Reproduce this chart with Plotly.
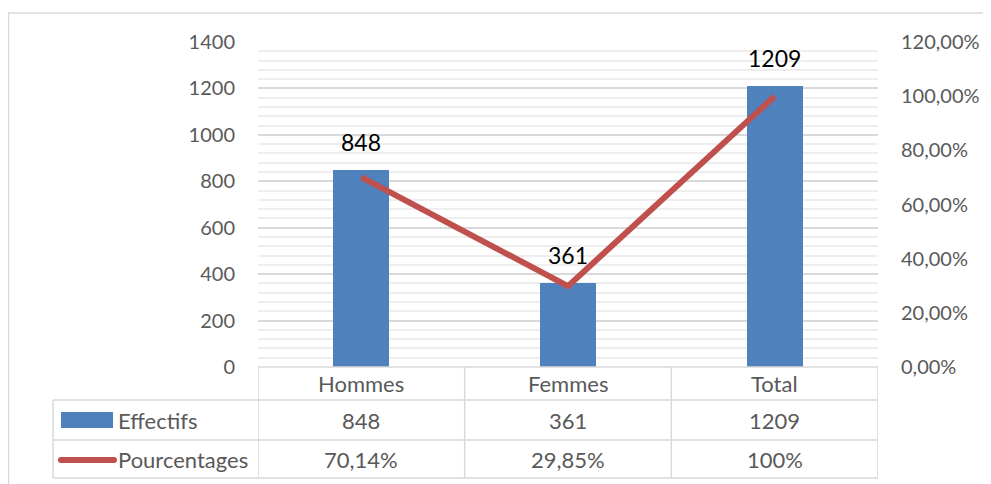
import plotly.graph_objects as go

# données du graphique
categories = ["Hommes", "Femmes", "Total"]
effectifs = [848, 361, 1209]
pourcentages = [70.14, 29.85, 100.0]
pourcentages_txt = ["70,14%", "29,85%", "100%"]
left_ticks = [0, 200, 400, 600, 800, 1000, 1200, 1400]
right_ticks = [0, 20, 40, 60, 80, 100, 120]
right_tick_txt = ["0,00%", "20,00%", "40,00%", "60,00%", "80,00%", "100,00%", "120,00%"]

# la page décale la figure de 8 px (marge du body)
OFF = 8
W, H = 991 - OFF, 484 - OFF
PL, PR, PT, PB = 258, 878, 42, 367  # zone de tracé en pixels (écran)
FONT = "Lato, Carlito, Calibri, sans-serif"
GREY_TXT = "#595959"
GRID = "#D9D9D9"
BLUE = "#4F81BD"
RED = "#C0504D"


def px(x):
    return (x - PL) / (PR - PL)


def py(y):
    return (PB - y) / (PB - PT)


fig = go.Figure()

fig.add_trace(go.Bar(
    x=categories, y=effectifs, name="Effectifs",
    marker=dict(color=BLUE, line=dict(width=0)),
    width=0.27, yaxis="y", hoverinfo="skip",
))
fig.add_trace(go.Scatter(
    x=categories, y=pourcentages, name="Pourcentages",
    mode="lines", line=dict(color=RED, width=6),
    yaxis="y2", hoverinfo="skip",
))

# étiquettes au-dessus des barres
for c, v in zip(categories, effectifs):
    fig.add_annotation(x=c, y=v, xref="x", yref="y", text=str(v),
                       showarrow=False, yanchor="bottom", yshift=12,
                       font=dict(family=FONT, size=23, color="black"))

shapes = []
# cadre extérieur
shapes.append(dict(type="rect", xref="paper", yref="paper",
                   x0=px(OFF + 0.5), x1=px(1000), y0=py(13), y1=py(500),
                   line=dict(color=GRID, width=1.5), layer="below"))


# tableau de données
def hline(x0, x1, y, xref="paper"):
    return dict(type="line", xref=xref, yref="paper", x0=x0, x1=x1,
                y0=py(y), y1=py(y), line=dict(color=GRID, width=1.5))


def vline(x, y0, y1, xref="paper"):
    return dict(type="line", xref=xref, yref="paper", x0=x, x1=x,
                y0=py(y0), y1=py(y1), line=dict(color=GRID, width=1.5))


shapes.append(hline(px(53), 1, 400))
shapes.append(hline(px(53), 1, 440))
shapes.append(hline(px(53), 1, 478))
shapes.append(hline(0, 1, PB))
shapes.append(vline(px(53), 400, 478))
for xb in [-0.5, 0.5, 1.5, 2.5]:
    shapes.append(vline(xb, PB, 478, xref="x"))

# légende dans le tableau
shapes.append(dict(type="rect", xref="paper", yref="paper",
                   x0=px(61), x1=px(113), y0=py(428), y1=py(412),
                   fillcolor=BLUE, line=dict(width=0)))
shapes.append(dict(type="line", xref="paper", yref="paper",
                   x0=px(61), x1=px(114), y0=py(460), y1=py(460),
                   line=dict(color=RED, width=6)))
for xc in [61, 114]:
    shapes.append(dict(type="circle", xref="paper", yref="paper",
                       x0=px(xc - 3), x1=px(xc + 3), y0=py(463), y1=py(457),
                       fillcolor=RED, line=dict(width=0)))

cell_font = dict(family=FONT, size=22, color=GREY_TXT)
for i, c in enumerate(categories):
    for txt, yc in [(c, 383), (str(effectifs[i]), 420), (pourcentages_txt[i], 459)]:
        fig.add_annotation(x=c, xref="x", y=py(yc), yref="paper", text=txt,
                           showarrow=False, xanchor="center", yanchor="middle",
                           font=cell_font)

for txt, yc in [("Effectifs", 420), ("Pourcentages", 459)]:
    fig.add_annotation(x=px(116), xref="paper", y=py(yc), yref="paper",
                       text=txt, showarrow=False, xanchor="left",
                       yanchor="middle", font=cell_font)

fig.update_layout(
    width=W, height=H,
    margin=dict(l=PL - OFF, r=991 - PR, t=PT - OFF, b=484 - PB, pad=0),
    paper_bgcolor="white", plot_bgcolor="white",
    showlegend=False, bargap=0,
    font=dict(family=FONT, size=20, color=GREY_TXT),
    shapes=shapes,
    xaxis=dict(type="category", range=[-0.5, 2.5], showticklabels=False,
               showgrid=False, zeroline=False, showline=False, fixedrange=True),
    yaxis=dict(range=[0, 1400], tickvals=left_ticks,
               ticktext=[str(t) for t in left_ticks],
               showgrid=True, gridcolor=GRID, gridwidth=1.5,
               minor=dict(dtick=40, showgrid=True, gridcolor="#EEEEEE", gridwidth=1.5),
               zeroline=False, showline=False, ticks="",
               ticklabelstandoff=22, fixedrange=True,
               tickfont=dict(family=FONT, size=20, color=GREY_TXT)),
    yaxis2=dict(range=[0, 120], overlaying="y", side="right",
                tickvals=right_ticks, ticktext=right_tick_txt,
                showgrid=False, zeroline=False, showline=False, ticks="",
                ticklabelstandoff=22, fixedrange=True,
                tickfont=dict(family=FONT, size=20, color=GREY_TXT)),
)

fig.write_html("out.html")
